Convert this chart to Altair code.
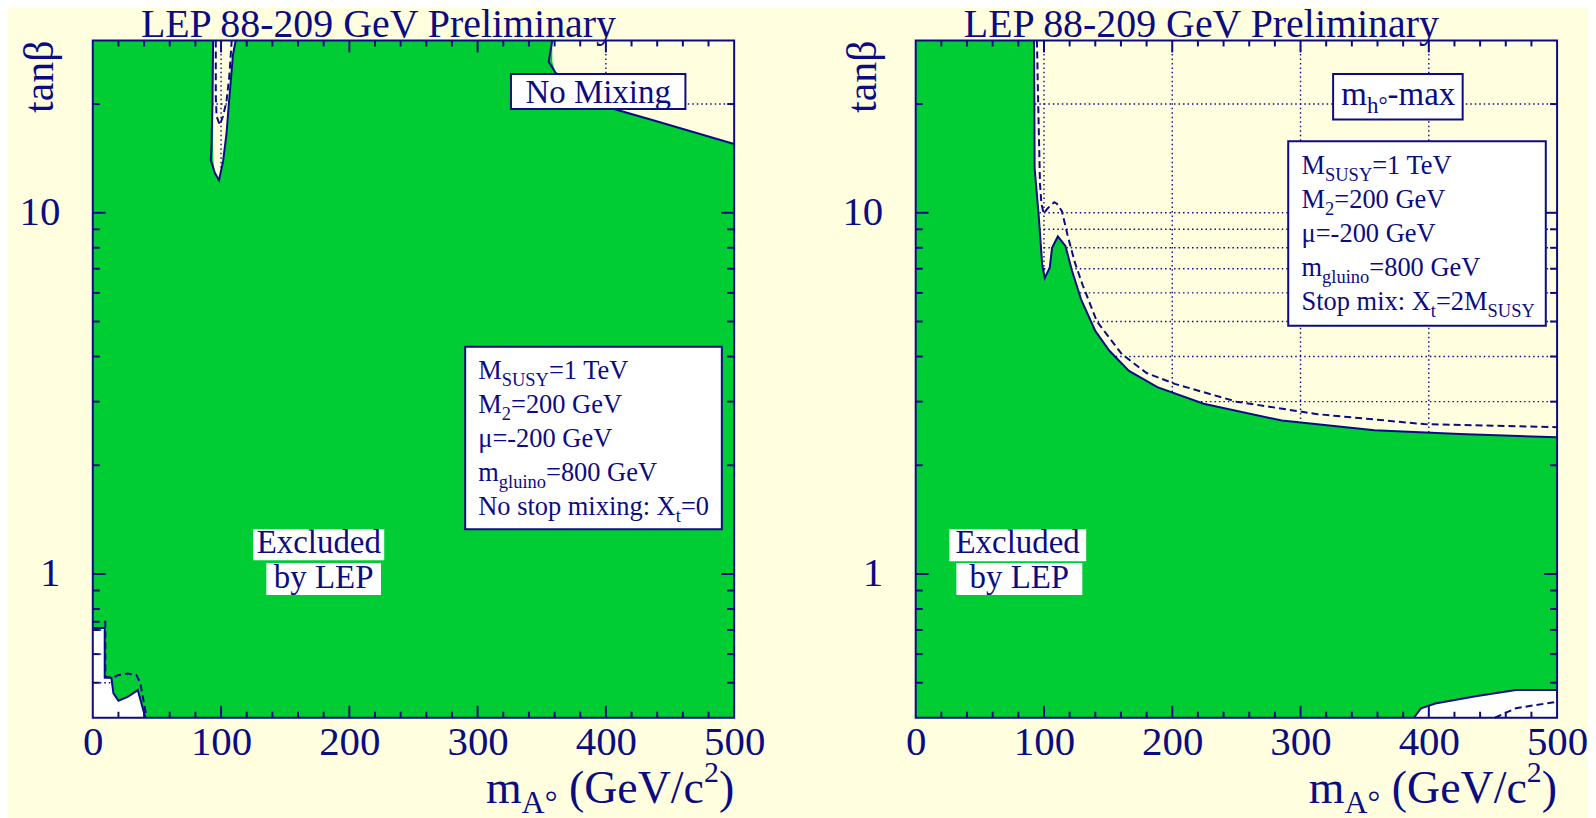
import math
import altair as alt
import pandas as pd

# ---------------- data ----------------
X_LABELS = [0, 100, 200, 300, 400, 500]
Y_LABELS = [1, 10]
X_MAJOR_TICKS = [100, 200, 300, 400]
X_MINOR_TICKS = [20, 40, 60, 80, 120, 140, 160, 180, 220, 240, 260, 280,
                 320, 340, 360, 380, 420, 440, 460, 480]
Y_MAJOR_TICKS = [1, 10]
Y_MINOR_TICKS = [0.5, 0.6, 0.7, 0.8, 0.9, 2, 3, 4, 5, 6, 7, 8, 9, 20]
X_GRID = [100, 200, 300, 400]
Y_GRID = [0.5, 0.6, 0.7, 0.8, 0.9, 1, 2, 3, 4, 5, 6, 7, 8, 9, 10, 20]

# --- No mixing (left) : observed contour ---
NM_SPIKE_X = [93.8, 93.3, 92.5, 92.0, 95.1, 98.4, 101.6, 104.2, 106.2, 109.3, 111.4]
NM_SPIKE_Y = [30, 20.3, 15.2, 14.0, 12.9, 12.3, 13.9, 16.5, 20.3, 27.4, 30]
NM_CORNER_X = [358.2, 355.4, 360.8, 403.6, 435.5, 500]
NM_CORNER_Y = [30, 26.2, 24.4, 19.5, 18.1, 15.5]
NM_LOW_X = [0, 9.3, 9.3, 14.5, 16.1, 20.0, 27.2, 35.1, 41.0]
NM_LOW_Y = [0.709, 0.709, 0.516, 0.516, 0.467, 0.446, 0.457, 0.477, 0.4]
# --- No mixing : expected (dashed) ---
NM_EXP_SPIKE_X = [95.9, 95.9, 96.5, 99.0, 101.5, 104.2, 106.5, 108.3]
NM_EXP_SPIKE_Y = [30, 21, 18.5, 17.5, 18.5, 20.3, 24, 30]
NM_EXP_LOW_X = [0, 9.8, 9.8, 15, 20, 27, 34, 37, 42]
NM_EXP_LOW_Y = [0.737, 0.737, 0.52, 0.515, 0.525, 0.53, 0.525, 0.5, 0.4]

# --- mh-max (right) : observed contour ---
MH_UP_X = [92.2, 92.5, 92.7, 96.0, 98.6, 100.6, 104.5, 106.3, 110.8, 116.7, 121.9,
           129.0, 140.0, 151.0, 166.3, 188.4, 224.5, 285.5, 357.6, 424.1, 500]
MH_UP_Y = [30, 20, 13.3, 9.7, 7.2, 6.6, 7.05, 8.0, 8.6, 8.1, 6.9,
           5.75, 4.71, 4.15, 3.65, 3.29, 2.96, 2.66, 2.50, 2.44, 2.39]
MH_LOW_X = [388.4, 394, 405, 436.5, 467.9, 500]
MH_LOW_Y = [0.4, 0.425, 0.438, 0.459, 0.477, 0.477]
# --- mh-max : expected (dashed) ---
MH_EXP_UP_X = [94.5, 95.5, 96.9, 98.0, 99.8, 103, 108, 110, 114, 118.3, 124, 130.2,
               141.3, 160.7, 180, 202, 250, 313.2, 396.3, 500]
MH_EXP_UP_Y = [30, 20, 12, 10.6, 9.95, 10.3, 10.7, 10.6, 10.1, 8.7, 7.3, 6.3,
               5.0, 4.06, 3.6, 3.36, 3.0, 2.77, 2.6, 2.55]
MH_EXP_LOW_X = [451.5, 467.9, 500]
MH_EXP_LOW_Y = [0.4, 0.425, 0.443]

TITLE = "LEP 88-209 GeV Preliminary"
NM_PARAMS = [
    [("M", "n"), ("SUSY", "sub"), ("=1 TeV", "n")],
    [("M", "n"), ("2", "sub"), ("=200 GeV", "n")],
    [("μ=-200 GeV", "n")],
    [("m", "n"), ("gluino", "sub"), ("=800 GeV", "n")],
    [("No stop mixing: X", "n"), ("t", "sub"), ("=0", "n")],
]
MH_PARAMS = [
    [("M", "n"), ("SUSY", "sub"), ("=1 TeV", "n")],
    [("M", "n"), ("2", "sub"), ("=200 GeV", "n")],
    [("μ=-200 GeV", "n")],
    [("m", "n"), ("gluino", "sub"), ("=800 GeV", "n")],
    [("Stop mix: X", "n"), ("t", "sub"), ("=2M", "n"), ("SUSY", "sub")],
]

# ---------------- style ----------------
NAVY = "#0c0c82"
GREEN = "#00cc33"
CREAM = "#ffffe0"
FONT = "Liberation Serif"
W, H = 643, 679
X_DOMAIN = [0, 500]
Y_DOMAIN = [0.4, 30]
SX = W / (X_DOMAIN[1] - X_DOMAIN[0])
LOGSPAN = math.log10(Y_DOMAIN[1] / Y_DOMAIN[0])
XS = alt.Scale(domain=X_DOMAIN, nice=False, zero=False)
YS = alt.Scale(type="log", domain=Y_DOMAIN, nice=False)
X_AXIS = alt.Axis(values=X_LABELS, title=None, ticks=False, domain=False, grid=False,
                  labelFont=FONT, labelFontSize=41, labelColor=NAVY, labelPadding=5,
                  labelFlush=False, labelOverlap=False, format="d")
Y_AXIS = alt.Axis(values=Y_LABELS, title=None, ticks=False, domain=False, grid=False,
                  labelFont=FONT, labelFontSize=41, labelColor=NAVY, labelPadding=33,
                  labelFlush=False, labelOverlap=False, format="d")


def X(f="x:Q"):
    return alt.X(f, scale=XS, axis=X_AXIS)


def Y(f="y:Q"):
    return alt.Y(f, scale=YS, axis=Y_AXIS)


def ydat(px):
    return 10 ** (math.log10(Y_DOMAIN[1]) - px * LOGSPAN / H)


WID = {" ": 250, "(": 333, ")": 333, "-": 333, "/": 278, ":": 278, "=": 564,
       "°": 400, "μ": 576, "β": 549}
WID.update({d: 500 for d in "0123456789"})
WID.update(dict(zip("ABCDEFGHIJKLMNOPQRSTUVWXYZ",
                    [722, 667, 667, 722, 611, 556, 722, 722, 333, 389, 722, 611, 889,
                     722, 722, 556, 722, 667, 556, 611, 722, 722, 944, 722, 722, 611])))
WID.update(dict(zip("abcdefghijklmnopqrstuvwxyz",
                    [444, 500, 444, 500, 444, 333, 500, 500, 278, 278, 500, 278, 778,
                     500, 500, 500, 500, 333, 389, 278, 500, 500, 722, 500, 500, 444])))


def tw(s):
    return sum(WID.get(c, 500) for c in s) / 1000.0


def seg_rows(x_data, base_px, segs, align="left"):
    widths = [tw(t) * fs for t, fs, dy in segs]
    total = sum(widths)
    cur = 0 if align == "left" else (-total / 2 if align == "center" else -total)
    rows = []
    for (t, fs, dy), w in zip(segs, widths):
        lead = len(t) - len(t.lstrip(" "))
        off = cur + lead * 0.25 * fs
        rows.append({"t": t.strip(" "), "x": x_data + off / SX,
                     "y": ydat(base_px + dy), "s": fs})
        cur += w
    return rows


def param_rows(x_data, first_px, lines, size=26.5, sub=18.5, step=34):
    rows = []
    for k, line in enumerate(lines):
        segs = [(t, size if kd == "n" else sub, 0 if kd == "n" else 7) for t, kd in line]
        rows += seg_rows(x_data, first_px + k * step, segs)
    return rows


def xtitle_rows():
    return seg_rows(500, 764, [("m", 46, 0), ("A°", 32, 11), (" (GeV/c", 46, 0),
                               ("2", 30, -21), (")", 46, 0)], align="right")


def monotone(xs):
    out = []
    for v in xs:
        if out and v <= out[-1]:
            v = out[-1] + 0.02
        out.append(v)
    return out


def area_layer(xs, ys, y2s, color):
    df = pd.DataFrame({"x": monotone(xs), "y": ys, "y2": y2s})
    return alt.Chart(df).mark_area(color=color).encode(x=X(), y=Y(), y2="y2:Q")


def line_layer(xs, ys, dashed=False):
    df = pd.DataFrame({"x": xs, "y": ys, "i": list(range(len(xs)))})
    kw = dict(color=NAVY, strokeWidth=2)
    if dashed:
        kw["strokeDash"] = [7, 4]
    return alt.Chart(df).mark_line(**kw).encode(x=X(), y=Y(), order="i:Q")


def rect_layer(boxes, border):
    df = pd.DataFrame(boxes, columns=["x", "x2", "py", "py2"])
    df["y"] = [ydat(p) for p in df["py"]]
    df["y2"] = [ydat(p) for p in df["py2"]]
    kw = dict(fill="white")
    if border:
        kw.update(stroke=NAVY, strokeWidth=2)
    return alt.Chart(df).mark_rect(**kw).encode(x=X(), x2="x2:Q", y=Y(), y2="y2:Q")


def text_layer(rows):
    return alt.Chart(pd.DataFrame(rows)).mark_text(
        align="left", baseline="alphabetic", font=FONT, color=NAVY).encode(
        x=X(), y=Y(), text="t:N", size=alt.Size("s:Q", scale=None, legend=None))


def tick_layers():
    layers = []
    for vals, ln in ((X_MAJOR_TICKS, 12), (X_MINOR_TICKS, 6)):
        df = pd.DataFrame({"v": vals})
        for a, b in ((H, H - ln), (0, ln)):
            layers.append(alt.Chart(df).mark_rule(color=NAVY, strokeWidth=2).encode(
                x=X("v:Q"), y=alt.value(a), y2=alt.value(b)))
    for vals, ln in ((Y_MAJOR_TICKS, 13), (Y_MINOR_TICKS, 7)):
        df = pd.DataFrame({"v": vals})
        for a, b in ((0, ln), (W, W - ln)):
            layers.append(alt.Chart(df).mark_rule(color=NAVY, strokeWidth=2).encode(
                y=Y("v:Q"), x=alt.value(a), x2=alt.value(b)))
    return layers


def grid_layers():
    gx = alt.Chart(pd.DataFrame({"v": X_GRID})).mark_rule(
        color=NAVY, strokeWidth=1.4, strokeDash=[1.5, 3]).encode(x=X("v:Q"))
    gy = alt.Chart(pd.DataFrame({"v": Y_GRID})).mark_rule(
        color=NAVY, strokeWidth=1.4, strokeDash=[1.5, 3]).encode(y=Y("v:Q"))
    return [gx, gy]


def frame_layer():
    return alt.Chart(pd.DataFrame({"a": [0]})).mark_rect(
        fillOpacity=0, stroke=NAVY, strokeWidth=2).encode(
        x=alt.value(0), x2=alt.value(W), y=alt.value(0), y2=alt.value(H))


def tan_layer():
    df = pd.DataFrame({"x": [-40 / SX], "y": [Y_DOMAIN[1]]})
    return alt.Chart(df).mark_text(
        text="tanβ", angle=270, align="right", baseline="alphabetic",
        font=FONT, fontSize=42, color=NAVY).encode(x=X(), y=Y())


# ---------------- left panel ----------------
left_up_x = [0] + NM_SPIKE_X + NM_CORNER_X
left_up_y = [30] + NM_SPIKE_Y + NM_CORNER_Y
left_rows = (seg_rows(37.5, -3.5, [(TITLE, 40, 0)])
             + seg_rows(394, 62.5, [("No Mixing", 33, 0)], align="center")
             + param_rows(300.5, 339.3, NM_PARAMS)
             + seg_rows(176.2, 514, [("Excluded", 33, 0)], align="center")
             + seg_rows(180.0, 549, [("by LEP", 33, 0)], align="center")
             + xtitle_rows())
left = alt.layer(
    area_layer(NM_LOW_X, NM_LOW_Y, [0.4] * len(NM_LOW_X), "white"),
    *grid_layers(),
    area_layer(left_up_x, left_up_y, [0.75] * len(left_up_x), GREEN),
    area_layer(NM_LOW_X + [500], [0.8] * (len(NM_LOW_X) + 1), NM_LOW_Y + [0.4], GREEN),
    line_layer(NM_SPIKE_X, NM_SPIKE_Y),
    line_layer(NM_CORNER_X, NM_CORNER_Y),
    line_layer(NM_LOW_X, NM_LOW_Y),
    line_layer(NM_EXP_SPIKE_X, NM_EXP_SPIKE_Y, dashed=True),
    line_layer(NM_EXP_LOW_X, NM_EXP_LOW_Y, dashed=True),
    *tick_layers(),
    rect_layer([(326, 462, 33.7, 68.7), (290.3, 490.4, 307, 490)], True),
    rect_layer([(125.0, 227.2, 490, 521), (135.3, 224.7, 524, 556)], False),
    text_layer(left_rows),
    tan_layer(),
    frame_layer(),
).properties(width=W, height=H)

# ---------------- right panel ----------------
right_up_x = [0] + MH_UP_X
right_up_y = [30] + MH_UP_Y
right_rows = (seg_rows(37.5, -3.5, [(TITLE, 40, 0)])
              + seg_rows(331.8, 64.3, [("m", 33, 0), ("h°", 23, 8), ("-max", 33, 0)])
              + param_rows(300.8, 134.3, MH_PARAMS)
              + seg_rows(79.5, 514, [("Excluded", 33, 0)], align="center")
              + seg_rows(80.8, 549, [("by LEP", 33, 0)], align="center")
              + xtitle_rows())
right = alt.layer(
    area_layer(MH_LOW_X, MH_LOW_Y, [0.4] * len(MH_LOW_X), "white"),
    *grid_layers(),
    area_layer(right_up_x, right_up_y, [0.48] * len(right_up_x), GREEN),
    area_layer([0] + MH_LOW_X, [0.5] * (len(MH_LOW_X) + 1), [0.4] + MH_LOW_Y, GREEN),
    line_layer(MH_UP_X, MH_UP_Y),
    line_layer(MH_LOW_X, MH_LOW_Y),
    line_layer(MH_EXP_UP_X, MH_EXP_UP_Y, dashed=True),
    line_layer(MH_EXP_LOW_X, MH_EXP_LOW_Y, dashed=True),
    *tick_layers(),
    rect_layer([(325.4, 426.4, 33.7, 79.3), (290.4, 491.2, 101, 286)], True),
    rect_layer([(26.2, 132.9, 490, 522), (31.7, 129.9, 524, 556)], False),
    text_layer(right_rows),
    tan_layer(),
    frame_layer(),
).properties(width=W, height=H)

chart = alt.hconcat(left, right, spacing=182, bounds="flush").configure_view(
    strokeWidth=0, fill=CREAM).properties(
    background=CREAM, padding={"left": 11, "top": -4.5, "right": 0, "bottom": 0})

chart.save("out.html", embed_options={"renderer": "svg", "actions": False})
